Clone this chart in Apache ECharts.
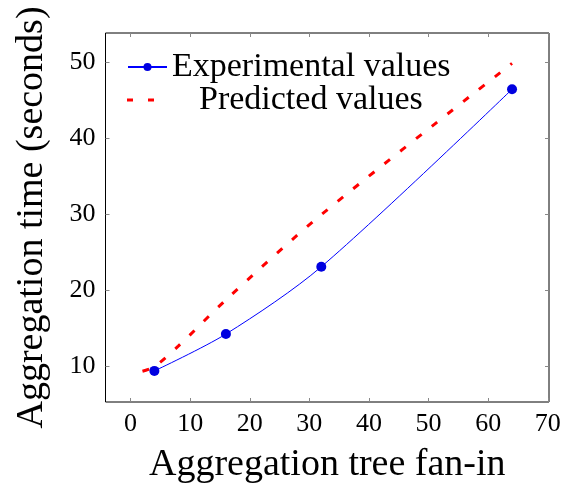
<!DOCTYPE html>
<html><head><meta charset="utf-8">
<script src="https://cdn.jsdelivr.net/npm/echarts@6/dist/echarts.min.js"></script>
<style>html,body{margin:0;padding:0;background:#fff}#c{width:563px;height:484px}</style>
</head><body><div id="c"></div>
<script>
var expX = [4, 16, 32, 64];
var expY = [9.35, 14.2, 23.05, 46.4];
var predX = [2, 4, 8, 16, 32, 64];
var predY = [9.3, 9.9, 12.6, 18.7, 29.9, 49.8];
var xTicks = [0, 10, 20, 30, 40, 50, 60, 70];
var yTicks = [10, 20, 30, 40, 50];
var FONT = 'Liberation Serif';

function pairs(xs, ys){ return xs.map(function(x,i){ return [x, ys[i]]; }); }

var tickStyle = {color: '#888', width: 1};
function xAx(pos, main){
  return {
    type: 'value', min: -4.2, max: 70.2, position: pos,
    name: main ? 'Aggregation tree fan-in' : '', nameLocation: 'middle', nameGap: 44,
    nameTextStyle: {fontFamily: FONT, fontSize: 38, color: '#000'},
    axisLine: {show: false, onZero: false},
    axisTick: {show: true, inside: true, length: 4, lineStyle: tickStyle, customValues: xTicks},
    axisLabel: {show: main, fontFamily: FONT, fontSize: 26, color: '#000', margin: 9, customValues: xTicks},
    splitLine: {show: false}
  };
}
function yAx(pos, main){
  return {
    type: 'value', min: 5.26, max: 53.8, position: pos,
    name: main ? 'Aggregation time (seconds)' : '', nameLocation: 'middle', nameGap: 54,
    nameTextStyle: {fontFamily: FONT, fontSize: 38, color: '#000'},
    axisLine: {show: false, onZero: false},
    axisTick: {show: true, inside: true, length: 4, lineStyle: tickStyle, customValues: yTicks},
    axisLabel: {show: main, fontFamily: FONT, fontSize: 26, color: '#000', margin: 10, customValues: yTicks},
    splitLine: {show: false}
  };
}

var chart = echarts.init(document.getElementById('c'), null, {renderer:'canvas'});
chart.setOption({
  animation: false,
  backgroundColor: '#fff',
  grid: {left: 105.5, right: 14, top: 33, bottom: 82, outerBoundsMode: 'none', containLabel: false,
         show: true, borderColor: '#000', borderWidth: 1, backgroundColor: 'transparent'},
  legend: [{
    data: ['Experimental values'], left: 127, top: 50, padding: 0, itemWidth: 39, itemHeight: 10, itemGap: 5,
    textStyle: {fontFamily: FONT, fontSize: 34, color: '#000'}
  },{
    data: [{name: 'Predicted values', icon: 'path://M0,0h6v3h-6z M21,0h6v3h-6z'}],
    left: 127, top: 83, padding: 0, itemWidth: 27, itemHeight: 3, itemGap: 5,
    textStyle: {fontFamily: FONT, fontSize: 34, color: '#000', padding: [0,0,0,40]}
  }],
  xAxis: [xAx('bottom', true), xAx('top', false)],
  yAxis: [yAx('left', true), yAx('right', false)],
  series: [{
    name: 'Experimental values', type: 'line', data: pairs(expX, expY),
    smooth: 0.3, symbol: 'circle', symbolSize: 10,
    itemStyle: {color: '#0000e0'}, lineStyle: {color: '#0000ff', width: 1}, z: 3
  },{
    name: 'Predicted values', type: 'line', data: pairs(predX, predY),
    smooth: 0.3, symbol: 'none', showSymbol: false,
    itemStyle: {color: '#ff0000'},
    lineStyle: {color: '#ff0000', width: 3, type: [7, 13]}, z: 2
  }]
});
</script></body></html>
